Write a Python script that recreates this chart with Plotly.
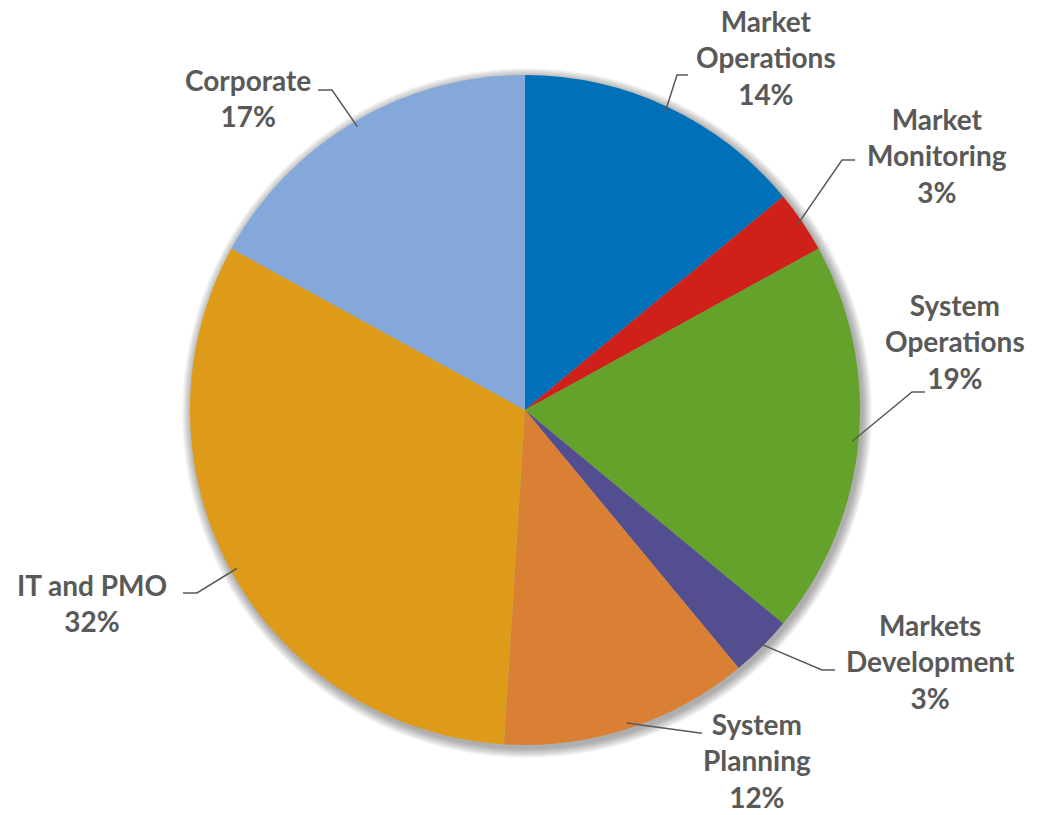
import math
import plotly.graph_objects as go

# Budget share by department (percent), clockwise from 12 o'clock
departments = ["Market<br>Operations", "Market<br>Monitoring", "System<br>Operations",
               "Markets<br>Development", "System<br>Planning", "IT and PMO", "Corporate"]
shares = [14, 3, 19, 3, 12, 32, 17]
colors = ["#0070B8", "#D0201A", "#64A22C", "#524E8F", "#D98034", "#DD9B19", "#84A8DA"]

W, H = 1047, 815
CX, CY, R = 525, 410, 335  # pie centre and radius in pixels

# Label anchor (text centre) and elbow/end of each leader line, in pixels
label_pos = [(766, 57), (937, 155), (955, 341), (930, 661), (757, 760), (92, 603), (248, 98)]
elbows = [((677, 75), (688, 75)), ((842, 160), (855, 160)), ((912, 392), (925, 392)),
          ((822, 670), (835, 670)), ((700, 733), (702, 733)), ((197, 593), (183, 593)),
          ((332, 90), (318, 90))]

def px(x):
    return x / W

def py(y):
    return 1 - y / H

fig = go.Figure(go.Pie(
    labels=[d.replace("<br>", " ") for d in departments],
    values=shares,
    sort=False,
    direction="clockwise",
    rotation=0,
    marker=dict(colors=colors, line=dict(width=0)),
    textinfo="none",
    hoverinfo="label+percent",
    showlegend=False,
    domain=dict(x=[px(CX - R), px(CX + R)], y=[py(CY + R), py(CY - R)]),
))

shapes = []
# soft drop shadow around the pie
for k in range(10, 0, -1):
    rr = R + k
    ox, oy = 2, 3
    shapes.append(dict(type="circle", xref="paper", yref="paper", layer="below",
                       x0=px(CX + ox - rr), x1=px(CX + ox + rr),
                       y0=py(CY + oy + rr), y1=py(CY + oy - rr),
                       fillcolor="rgba(0,0,0,0.035)", line=dict(width=0)))

annotations = []
total = sum(shares)
cum = 0
for name, val, (lx, ly), (e1, e2) in zip(departments, shares, label_pos, elbows):
    mid = (cum + val / 2) / total * 2 * math.pi
    cum += val
    sx = CX + (R - 6) * math.sin(mid)
    sy = CY - (R - 6) * math.cos(mid)
    path = f"M {px(sx)},{py(sy)} L {px(e1[0])},{py(e1[1])} L {px(e2[0])},{py(e2[1])}"
    shapes.append(dict(type="path", xref="paper", yref="paper", path=path,
                       line=dict(color="#595959", width=1.5)))
    annotations.append(dict(
        x=px(lx), y=py(ly), xref="paper", yref="paper",
        text=f"<b>{name}<br>{val}%</b>", showarrow=False,
        xanchor="center", yanchor="middle", align="center",
        font=dict(family="Lato", size=28, color="#595959"),
    ))

fig.update_layout(
    width=W, height=H,
    margin=dict(l=0, r=0, t=0, b=0),
    paper_bgcolor="white", plot_bgcolor="white",
    shapes=shapes, annotations=annotations,
)

fig.write_html("out.html")
